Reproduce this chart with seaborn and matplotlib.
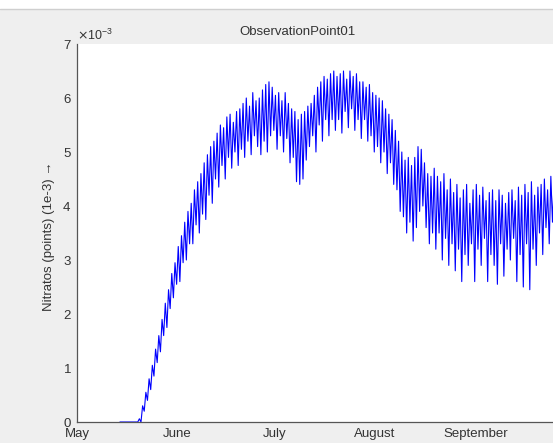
import numpy as np
import pandas as pd
import matplotlib
matplotlib.use("Agg")
import matplotlib.pyplot as plt
from matplotlib.patches import Rectangle
from matplotlib.lines import Line2D
import seaborn as sns

# Daily nitrate highs and lows at ObservationPoint01, in units of 1e-3,
# starting on day 13 after May 1.
first_day = 13
daily_high = [
    0, 0, 0, 0, 0, 0,
    0.06, 0.3, 0.55, 0.8, 1.05, 1.35, 1.6, 1.9, 2.2, 2.45, 2.75,
    2.95, 3.25, 3.45, 3.7, 3.9, 4.05, 4.3, 4.45, 4.6, 4.8,
    4.95, 5.1, 5.2, 5.35, 5.5, 5.45, 5.65, 5.7, 5.55, 5.75,
    5.8, 5.9, 6.0, 5.85, 6.1, 5.95, 6.0, 6.15, 6.25, 6.3,
    6.2, 6.05, 6.1, 5.95, 6.1, 5.9, 5.8, 5.75, 5.6, 5.7,
    5.75, 5.85, 5.9, 6.05, 6.2, 6.3, 6.4, 6.35, 6.45, 6.5,
    6.4, 6.45, 6.5, 6.35, 6.5, 6.4, 6.45, 6.3, 6.3, 6.2,
    6.25, 6.1, 6.05, 6.0, 5.95, 5.8, 5.7, 5.6, 5.4, 5.2,
    5.0, 4.85, 4.9, 4.75, 4.9, 5.1, 5.05, 4.8, 4.6, 4.55,
    4.7, 4.55, 4.45, 4.6, 4.3, 4.5, 4.25, 4.4, 4.15, 4.3,
    4.4, 4.05, 4.3, 4.4, 4.2, 4.35, 4.1, 4.25, 4.3, 4.1,
    4.3, 4.2, 4.05, 4.25, 4.3, 4.1, 4.35, 4.2, 4.4, 4.25,
    4.45, 4.2, 4.35, 4.4, 4.5, 4.3, 4.55, 4.45, 4.35, 4.5, 4.3, 4.4, 4.3,
]
daily_low = [
    0, 0, 0, 0, 0, 0,
    0.0, 0.2, 0.4, 0.6, 0.85, 1.1, 1.3, 1.6, 1.75, 2.1, 2.3,
    2.55, 2.6, 2.95, 3.0, 3.3, 3.3, 3.65, 3.5, 3.85, 3.75,
    4.2, 4.05, 4.5, 4.35, 4.75, 4.5, 4.9, 4.7, 5.0, 4.75,
    5.05, 4.9, 5.2, 4.95, 5.3, 5.1, 4.95, 5.2, 5.0, 5.3,
    5.4, 5.05, 5.3, 5.0, 5.25, 4.8, 4.9, 4.45, 4.4, 4.5,
    4.85, 5.1, 5.3, 5.0, 5.5, 5.2, 5.6, 5.3, 5.6, 5.4,
    5.6, 5.35, 5.75, 5.45, 5.8, 5.4, 5.6, 5.25, 5.6, 5.2,
    5.3, 5.0, 5.1, 4.8, 5.0, 4.6, 4.8, 4.4, 4.3, 3.9,
    3.8, 3.5, 3.7, 3.35, 3.6, 3.9, 4.0, 3.6, 3.3, 3.5,
    3.2, 3.5, 3.0, 3.4, 2.9, 3.3, 2.8, 3.2, 2.6, 3.1,
    2.9, 3.3, 2.6, 3.2, 2.9, 3.4, 2.6, 3.1, 2.9, 2.55,
    3.3, 2.7, 3.2, 3.0, 3.4, 2.6, 3.1, 2.5, 3.3, 2.45,
    3.2, 2.9, 3.5, 3.1, 3.6, 3.3, 3.7, 3.2, 3.5, 3.4, 3.0, 3.5, 3.2,
]

# Month ticks, as days after May 1
month_days = [0, 31, 61, 92, 123]
month_names = ["May", "June", "July", "August", "September"]
y_ticks = [0, 1, 2, 3, 4, 5, 6, 7]
unit = 1e-3

days = np.arange(first_day, first_day + len(daily_high))
df = pd.DataFrame({
    "t": np.column_stack([days + 0.25, days + 0.75]).ravel(),
    "nitrate": np.column_stack([daily_high, daily_low]).ravel() * unit,
})

sns.set_style("white")
plt.rcParams["font.family"] = ["Liberation Sans", "DejaVu Sans"]

W, H = 553, 443
fig = plt.figure(figsize=(W / 100, H / 100), dpi=100, facecolor="#efefef")

# window strip along the top edge
fig.patches.append(Rectangle((0, 1 - 9 / H), 1, 9 / H, transform=fig.transFigure,
                             facecolor="white", edgecolor="none"))
fig.lines.append(Line2D([0, 1], [1 - 9 / H, 1 - 9 / H], transform=fig.transFigure,
                        color="#cfcfcf", lw=1))

left, bottom, top = 77, 422, 44
px_per_day = 3.24
xmax = 153
ax = fig.add_axes([left / W, (H - bottom) / H, xmax * px_per_day / W, (bottom - top) / H])
ax.set_facecolor("white")

sns.lineplot(data=df, x="t", y="nitrate", ax=ax, color="#0000ff", lw=0.8,
             estimator=None, sort=False)

ax.set_xlim(0, xmax)
ax.set_ylim(0, 7 * unit)
ax.set_xticks(month_days)
ax.set_xticklabels(month_names)
ax.set_yticks([v * unit for v in y_ticks])
ax.ticklabel_format(axis="y", style="sci", scilimits=(-3, -3), useMathText=True)

for s in ["top", "right"]:
    ax.spines[s].set_visible(False)
for s in ["left", "bottom"]:
    ax.spines[s].set_color("#555555")
    ax.spines[s].set_linewidth(0.9)

ax.tick_params(axis="both", direction="in", length=4, width=0.9, color="#555555",
               labelcolor="#333333", labelsize=9.5)
ax.tick_params(axis="x", pad=4)
ax.tick_params(axis="y", pad=4)
ax.yaxis.get_offset_text().set_fontsize(9)
ax.yaxis.get_offset_text().set_color("#333333")

ax.set_xlabel("")
ax.set_ylabel("Nitratos (points) (1e-3) →", fontsize=9.5, color="#333333")
ax.yaxis.set_label_coords((55 - left) / (xmax * px_per_day), (bottom - 236) / (bottom - top))

ax.text((297 - left) / (xmax * px_per_day), 1 + (top - 32) / (bottom - top),
        "ObservationPoint01", transform=ax.transAxes, ha="center", va="center",
        fontsize=9.5, color="#333333")

fig.savefig("out.png", dpi=100, facecolor=fig.get_facecolor())
